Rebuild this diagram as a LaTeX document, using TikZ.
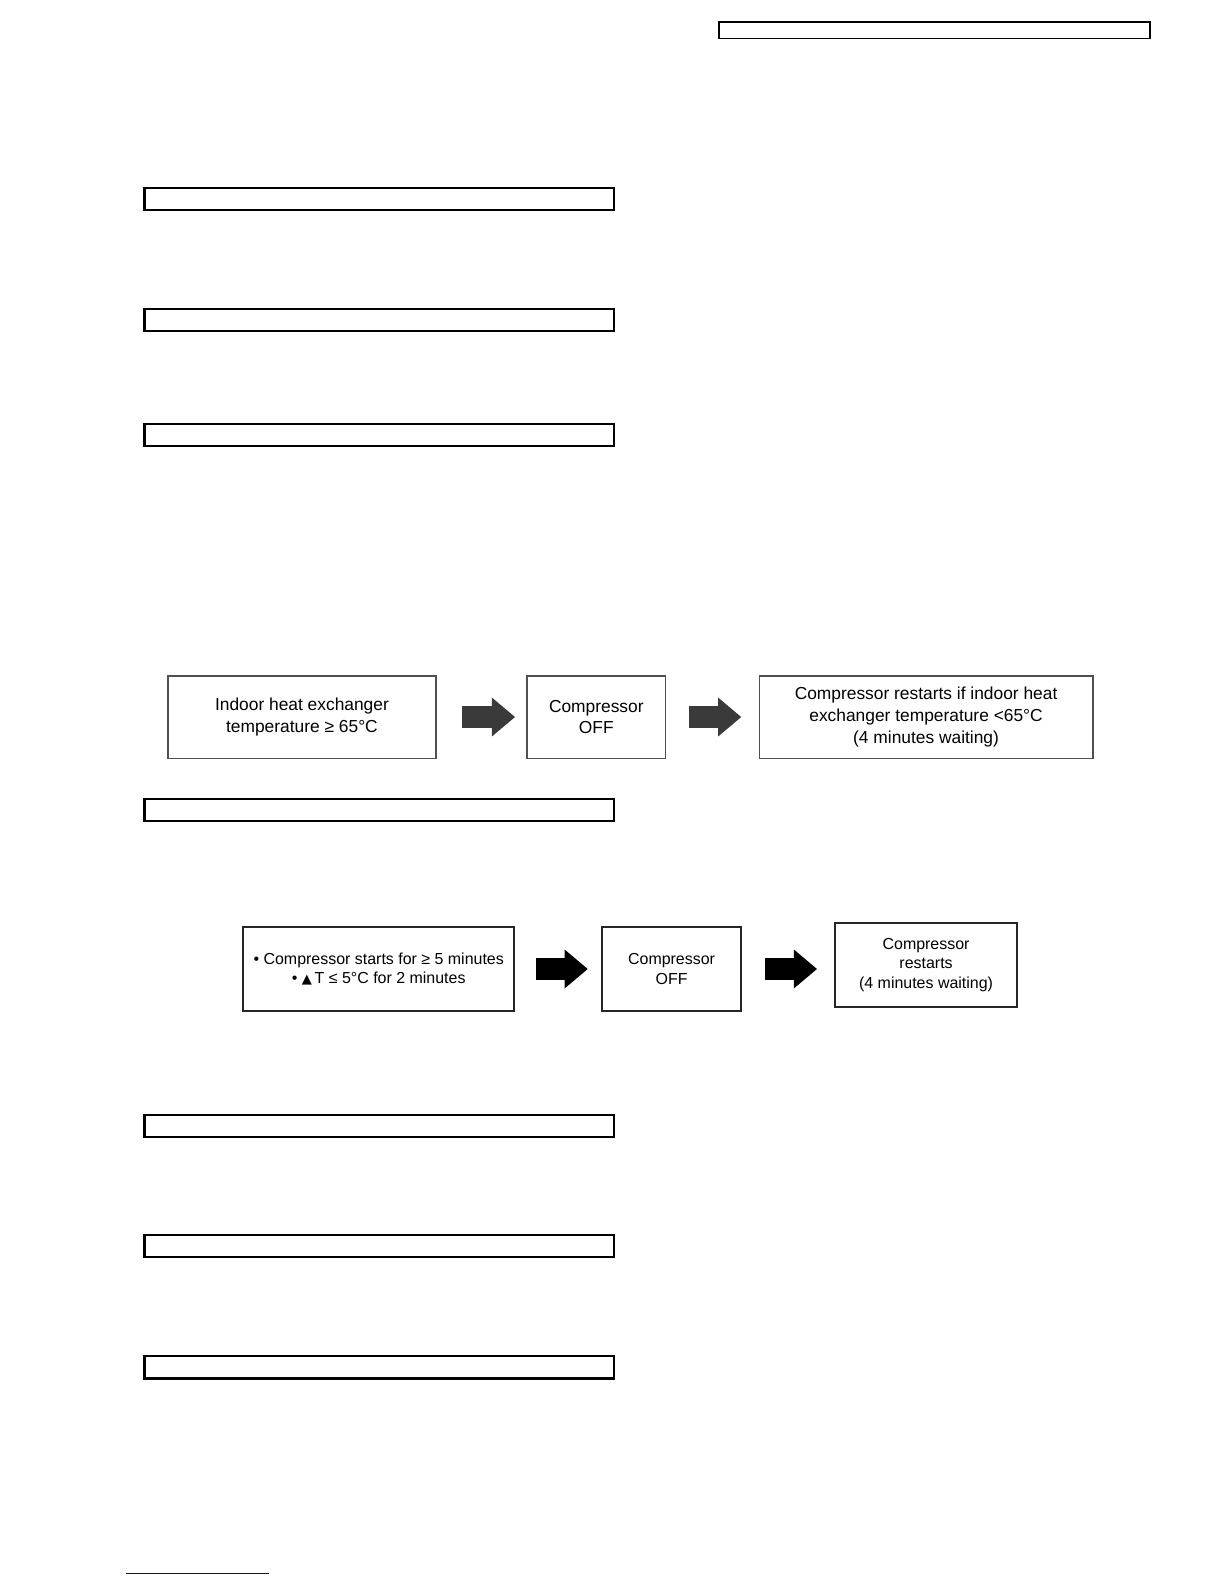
\documentclass[tikz,border=0pt]{standalone}
\usepackage{fontspec}
\setmainfont{Liberation Sans}
\newfontfamily\symfont{DejaVu Sans}
\usetikzlibrary{arrows.meta}
\definecolor{boxgray}{HTML}{505050}
\definecolor{arrgray}{HTML}{3A3A3A}
\tikzset{
  hdr/.style={draw=black, line width=1.1bp},
  flowA/.style={draw=boxgray, line width=0.9bp, align=center, inner sep=0pt,
    font=\fontsize{8.6bp}{10.8bp}\selectfont},
  flowB/.style={draw=black!85, line width=0.9bp, align=center, inner sep=0pt,
    font=\fontsize{7.9bp}{9.8bp}\selectfont},
  blockarrow/.style={line width=10.5bp,
    -{Triangle[length=11.5bp,width=18.5bp]}},
}
\begin{document}
\begin{tikzpicture}[x=0.5bp,y=-0.5bp]
\useasboundingbox (0,0) rectangle (1212,1568.5);
% top right header box
\draw[draw=black, line width=0.8bp] (712,22) rectangle (1139,38);
% section heading boxes
\foreach \yy in {186,306,420,791,1104,1223,1343}{
  \draw[hdr] (143,\yy) rectangle (608,\yy+22);
}
% row 1
\node[flowA, minimum width=133bp, minimum height=41bp] (a) at (299,710)
  {Indoor heat exchanger\\temperature ≥ 65°C};
\node[flowA, minimum width=68.5bp, minimum height=41bp] (b) at (590.5,710)
  {Compressor\\OFF};
\node[flowA, minimum width=165bp, minimum height=41bp] (c) at (917,710)
  {Compressor restarts if indoor heat\\exchanger temperature <65°C\\(4 minutes waiting)};
\draw[blockarrow, draw=arrgray, fill=arrgray, shorten <=12.5bp, shorten >=5.5bp] (a.east) -- (b.west);
\draw[blockarrow, draw=arrgray, fill=arrgray, shorten <=11bp, shorten >=8.5bp] (b.east) -- (c.west);
% row 2
\node[flowB, minimum width=134bp, minimum height=41.5bp] (d) at (375,959.5)
  {• Compressor starts for ≥ 5 minutes\\• {\symfont\fontsize{6.5bp}{9bp}\selectfont ▲}\,T ≤ 5°C for 2 minutes};
\node[flowB, minimum width=69bp, minimum height=41.5bp] (e) at (665,959.5)
  {Compressor\\OFF};
\node[flowB, minimum width=90bp, minimum height=41.5bp] (f) at (917,955.5)
  {Compressor\\restarts\\(4 minutes waiting)};
\draw[blockarrow, draw=black, fill=black, shorten <=10.5bp, shorten >=6.5bp] (d.east) -- (e.west);
\coordinate (fin) at (f.west |- e.east);
\draw[blockarrow, draw=black, fill=black, shorten <=11.5bp, shorten >=8.5bp] (e.east) -- (fin);
% link underline at bottom
\draw[draw=blue!70!black, line width=0.5bp] (125,1558) -- (266,1558);
\end{tikzpicture}
\end{document}
